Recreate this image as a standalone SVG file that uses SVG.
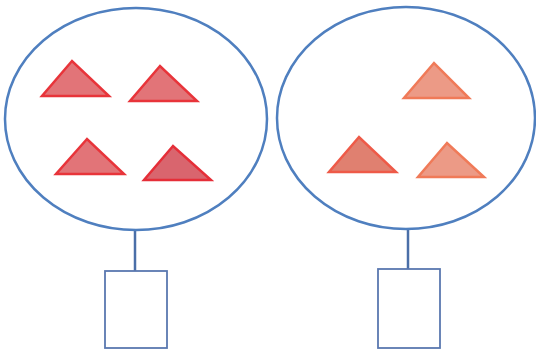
<svg xmlns="http://www.w3.org/2000/svg" width="536" height="349" viewBox="0 0 536 349">
<style>
.set{fill:none;stroke:#4f7fbf;stroke-width:2.5}
.stem{stroke:#4a6fa8;stroke-width:2.5;fill:none}
.box{fill:#fff;stroke:#5a78b0;stroke-width:1.8}
.tri{stroke-width:2.5;stroke-linejoin:miter}
.r{fill:#e27478;stroke:#e8343a}
.r2{fill:#d9656e;stroke:#e52e38}
.o{fill:#ec9a86;stroke:#f07a58}
.o2{fill:#e08070;stroke:#ee5a48}
</style>
<rect width="536" height="349" fill="#fff"/>
<g id="connectors">
<line class="stem" x1="135" y1="230" x2="135" y2="271"/>
<line class="stem" x1="408" y1="228" x2="408" y2="269"/>
</g>
<g id="set-left">
<ellipse class="set" cx="136" cy="119" rx="131" ry="111"/>
<polygon class="tri r" points="72,61 42,96 109,96"/>
<polygon class="tri r" points="160,66 130,101 197,101"/>
<polygon class="tri r" points="87,139 56,174 124,174"/>
<polygon class="tri r2" points="173,146 144,180 211,180"/>
</g>
<g id="set-right">
<ellipse class="set" cx="406" cy="118" rx="129" ry="111"/>
<polygon class="tri o" points="434,63 404,98 469,98"/>
<polygon class="tri o2" points="359,137 329,172 396,172"/>
<polygon class="tri o" points="447,143 418,177 484,177"/>
</g>
<g id="box-left">
<rect class="box" x="105" y="271" width="62" height="77"/>
</g>
<g id="box-right">
<rect class="box" x="378" y="269" width="62" height="79"/>
</g>
</svg>
